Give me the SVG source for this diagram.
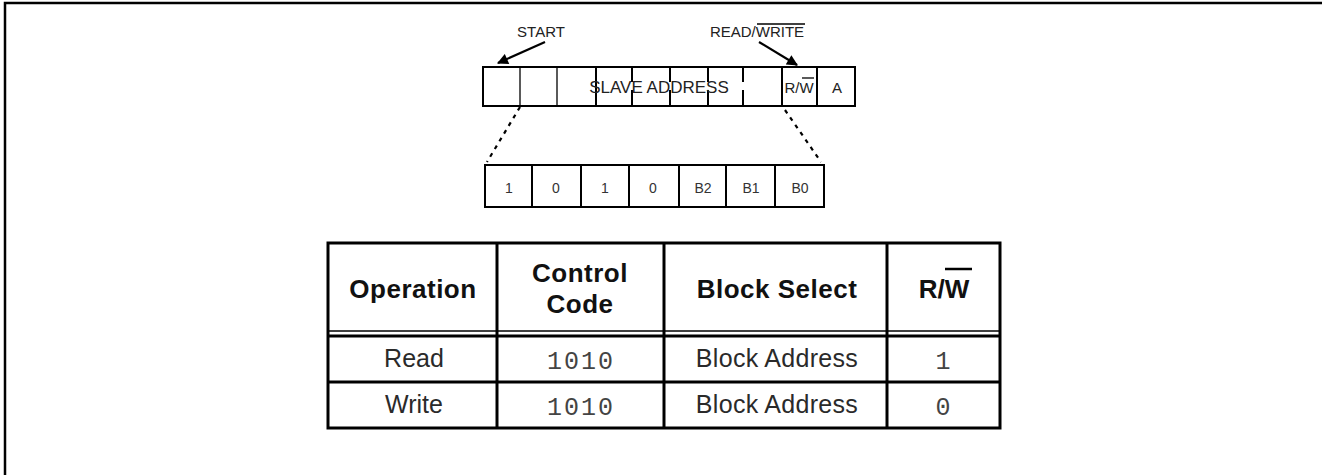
<svg xmlns="http://www.w3.org/2000/svg" width="1322" height="475" viewBox="0 0 1322 475">
<style>
.t{font-family:"Liberation Sans",Arial,sans-serif;fill:#222}
.s{font-size:15px;text-anchor:middle}
.b{font-size:14px;text-anchor:middle;fill:#333}
.h{font-size:26px;font-weight:bold;text-anchor:middle;fill:#111}
.r{font-size:25px;text-anchor:middle;fill:#2a2a2a}
.m{font-family:"Liberation Mono","Courier New",monospace;font-size:25px;text-anchor:middle;fill:#444;letter-spacing:2px}
.ln{stroke:#000;fill:none}
</style>
<defs>
<marker id="ah" viewBox="0 0 10 10" refX="9" refY="5" markerWidth="6" markerHeight="5" orient="auto" markerUnits="strokeWidth">
<path d="M0,0 L10,5 L0,10 z" fill="#000"/>
</marker>
</defs>
<rect width="1322" height="475" fill="#fff"/>
<path class="ln" d="M5,475 V3 H1322" stroke-width="2.5"/>

<g id="labels">
<text class="t s" x="541" y="37">START</text>
<text class="t s" x="757" y="37">READ/WRITE</text>
<line class="ln" x1="757" y1="24" x2="805" y2="24" stroke-width="1.3"/>
</g>

<g id="slave-address-byte">
<rect class="ln" x="483" y="67" width="372" height="39" stroke-width="2"/>
<line class="ln" x1="520" y1="67" x2="520" y2="106" stroke-width="1.3"/>
<line class="ln" x1="557" y1="67" x2="557" y2="106" stroke-width="1.3"/>
<line class="ln" x1="782" y1="67" x2="782" y2="106" stroke-width="2"/>
<line class="ln" x1="817" y1="67" x2="817" y2="106" stroke-width="2"/>
<path class="ln" stroke-width="2" d="M596,67 V106 M632,67 V82 M632,90 V106 M670,67 V82 M670,90 V106 M708,67 V82 M708,90 V106 M743,67 V82 M743,90 V106"/>
<text class="t" x="659" y="93" font-size="17" text-anchor="middle" fill="#333">SLAVE ADDRESS</text>
<text class="t" x="799" y="93" font-size="15" text-anchor="middle">R/W</text>
<line class="ln" x1="802" y1="78" x2="814" y2="78" stroke-width="1.3"/>
<text class="t" x="837" y="93" font-size="15" text-anchor="middle">A</text>
</g>

<g id="control-byte">
<rect class="ln" x="485" y="165" width="339" height="42" stroke-width="2"/>
<path class="ln" stroke-width="2" d="M532,165 V207 M581,165 V207 M629,165 V207 M679,165 V207 M726,165 V207 M775,165 V207"/>
<text class="t b" x="509" y="193">1</text>
<text class="t b" x="556" y="193">0</text>
<text class="t b" x="605" y="193">1</text>
<text class="t b" x="653" y="193">0</text>
<text class="t b" x="703" y="193">B2</text>
<text class="t b" x="751" y="193">B1</text>
<text class="t b" x="800" y="193">B0</text>
</g>

<g id="connectors">
<line class="ln" x1="545" y1="42" x2="498" y2="63" stroke-width="2.2" marker-end="url(#ah)"/>
<line class="ln" x1="759" y1="42" x2="797" y2="65" stroke-width="2.2" marker-end="url(#ah)"/>
<line class="ln" x1="520" y1="107" x2="487" y2="162" stroke-width="2.2" stroke-dasharray="4,5"/>
<line class="ln" x1="785" y1="110" x2="821" y2="162" stroke-width="2.2" stroke-dasharray="4,5"/>
</g>

<g id="table">
<rect class="ln" x="328" y="243" width="672" height="185" stroke-width="3"/>
<line class="ln" x1="328" y1="331" x2="1000" y2="331" stroke-width="1.5"/>
<line class="ln" x1="328" y1="336" x2="1000" y2="336" stroke-width="3"/>
<line class="ln" x1="328" y1="382" x2="1000" y2="382" stroke-width="3"/>
<line class="ln" x1="497" y1="243" x2="497" y2="428" stroke-width="3"/>
<line class="ln" x1="664" y1="243" x2="664" y2="428" stroke-width="3"/>
<line class="ln" x1="887" y1="243" x2="887" y2="428" stroke-width="3"/>
<text class="t h" x="413" y="298" letter-spacing="0.5">Operation</text>
<text class="t h" x="580" y="282" letter-spacing="0.5">Control</text>
<text class="t h" x="580" y="313" letter-spacing="0.5">Code</text>
<text class="t h" x="777" y="298" letter-spacing="0.5">Block Select</text>
<text class="t h" x="944" y="298">R/W</text>
<line class="ln" x1="945" y1="269" x2="972" y2="269" stroke-width="2.5"/>
<text class="t r" x="414" y="367">Read</text>
<text class="t m" x="581" y="369">1010</text>
<text class="t r" x="777" y="367" letter-spacing="0.3">Block Address</text>
<text class="t m" x="944" y="369">1</text>
<text class="t r" x="414" y="413">Write</text>
<text class="t m" x="581" y="415">1010</text>
<text class="t r" x="777" y="413" letter-spacing="0.3">Block Address</text>
<text class="t m" x="944" y="415">0</text>
</g>
</svg>
